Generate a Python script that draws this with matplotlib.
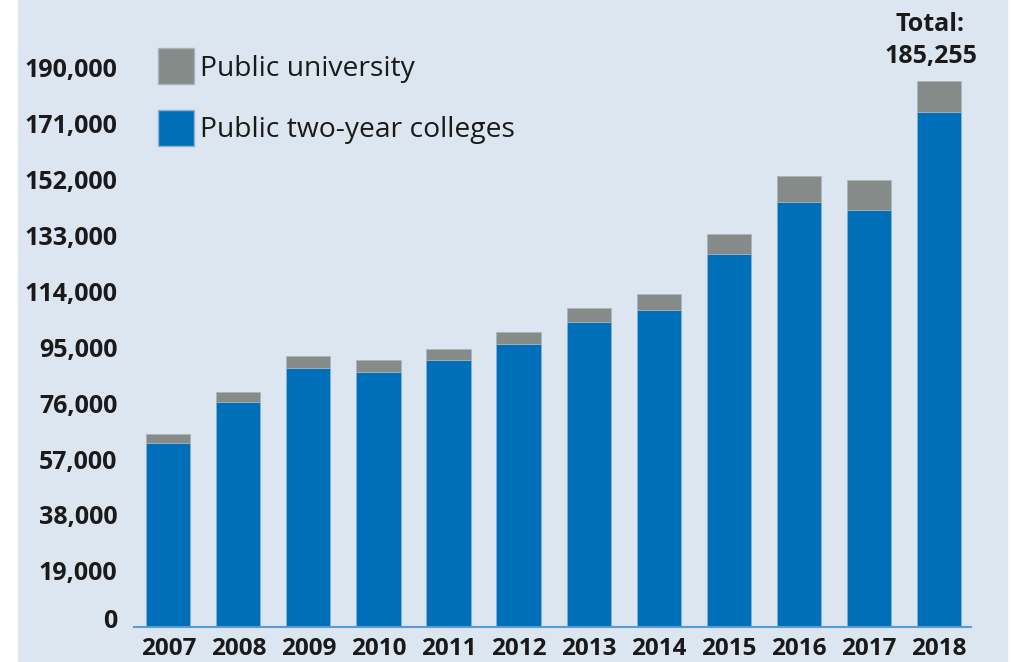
import matplotlib
matplotlib.use('Agg')
import matplotlib.pyplot as plt
import matplotlib.transforms as mtransforms
from matplotlib.patches import Patch, Rectangle
import numpy as np

years = ['2007', '2008', '2009', '2010', '2011', '2012',
         '2013', '2014', '2015', '2016', '2017', '2018']
two_year = [62500, 76200, 87800, 86400, 90500, 95900,
            103400, 107600, 126500, 144100, 141400, 174700]
university = [2900, 3400, 4100, 4100, 3900, 4100,
              4700, 5300, 6800, 8900, 10200, 10555]
yticks = [0, 19000, 38000, 57000, 76000, 95000,
          114000, 133000, 152000, 171000, 190000]
total_label = 'Total:\n185,255'

bg = '#dce6f0'
blue = '#006fba'
gray = '#848b88'

plt.rcParams['font.family'] = ['Open Sans', 'DejaVu Sans']

fig = plt.figure(figsize=(10.12, 6.62), dpi=100)
fig.patch.set_facecolor('white')
fig.patches.append(Rectangle((18 / 1012, 0), (1007 - 18) / 1012, 1,
                             transform=fig.transFigure, color=bg, zorder=-5))

ax = fig.add_axes([0.1324, 0.0529, 0.8271, 0.8903])
ax.set_facecolor(bg)
ax.patch.set_alpha(0)

x = np.arange(len(years))
ax.bar(x, two_year, width=0.63, color=blue, edgecolor='#8fb2d4', linewidth=0.5,
       label='Public two-year colleges', zorder=2)
ax.bar(x, university, width=0.63, bottom=two_year, color=gray,
       edgecolor='#a8b4bd', linewidth=0.5, label='Public university', zorder=2)

ax.set_xlim(-0.49, 11.46)
ax.set_ylim(0, 200000)
ax.set_xticks(x)
ax.set_xticklabels(years, fontsize=17.5, fontweight='bold', color='#1a1a1a')
ax.set_yticks(yticks)
ax.set_yticklabels(['{:,}'.format(v) for v in yticks], fontsize=18,
                   fontweight='bold', color='#1a1a1a')
ax.tick_params(axis='both', length=0)
ax.tick_params(axis='y', pad=12)
ax.tick_params(axis='x', pad=7)

# the 0 label sits a bit above the baseline
zero = ax.get_yticklabels()[0]
zero.set_transform(zero.get_transform() +
                   mtransforms.ScaledTranslation(0, 8 / 100, fig.dpi_scale_trans))

for s in ['top', 'right', 'left']:
    ax.spines[s].set_visible(False)
ax.spines['bottom'].set_color('#5b9bd5')
ax.spines['bottom'].set_linewidth(1.5)

totals = [a + b for a, b in zip(two_year, university)]
ax.annotate(total_label, xy=(x[-1], totals[-1]), xytext=(-6, 9),
            textcoords='offset points', ha='center', va='bottom',
            fontsize=18, fontweight='bold', color='#1a1a1a',
            linespacing=1.32, annotation_clip=False)

handles = [Patch(facecolor=gray, edgecolor='#a8b4bd', label='Public university'),
           Patch(facecolor=blue, edgecolor='#8fb2d4', label='Public two-year colleges')]
leg = ax.legend(handles=handles, loc='upper left', bbox_to_anchor=(0.0287, 0.982),
                frameon=False, fontsize=20.3, handlelength=1.28, handleheight=1.6,
                handletextpad=0.22, labelspacing=0.9, borderaxespad=0,
                borderpad=0)
for t in leg.get_texts():
    t.set_color('#1a1a1a')

plt.savefig('out.png', dpi=100, facecolor=fig.get_facecolor())
